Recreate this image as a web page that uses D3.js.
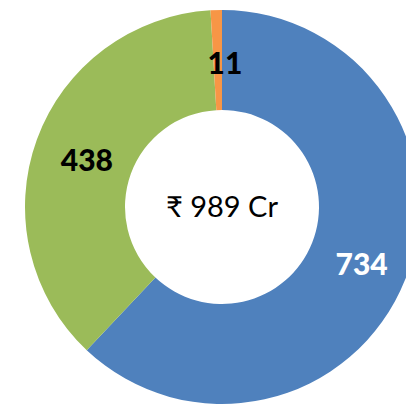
<!DOCTYPE html>
<html>
<head>
<meta charset="utf-8">
<script src="https://cdn.jsdelivr.net/npm/d3@7"></script>
<style>
  body { margin: 0; background: #fff; }
  text { font-family: Lato, "Noto Sans", sans-serif; }
</style>
</head>
<body>
<script>
const width = 406;
const height = 405;

// slices, clockwise from 12 o'clock
const categories = ["A", "B", "C"];
const values = [734, 438, 11];
const colors = ["#4F81BD", "#9BBB59", "#F79646"];
const labelColors = ["#fff", "#000", "#000"];
const centerLabel = "₹ 989 Cr";

const cx = 222, cy = 207;
const outer = 197, inner = 97;

var svg = d3.select("body").append("svg")
    .attr("width", width)
    .attr("height", height);

var g = svg.append("g")
    .attr("transform", `translate(${cx},${cy})`);

var pie = d3.pie().sort(null).value((d) => d.value);
var arc = d3.arc().innerRadius(inner).outerRadius(outer);
var labelArc = d3.arc().innerRadius((inner + outer) / 2).outerRadius((inner + outer) / 2);

var data = categories.map((c, i) => ({ name: c, value: values[i], i: i }));
var arcs = pie(data);

g.selectAll(".slice")
    .data(arcs)
  .enter().append("path")
    .attr("class", "slice")
    .attr("d", arc)
    .attr("fill", (d) => colors[d.data.i]);

g.selectAll(".lbl")
    .data(arcs)
  .enter().append("text")
    .attr("class", "lbl")
    .attr("transform", (d) => {
      const c = labelArc.centroid(d);
      // the tiny slice's label sits centred on the top
      if (d.data.value < 20) c[0] = 0;
      return `translate(${c[0] + 3},${c[1] + 2})`;
    })
    .attr("text-anchor", "middle")
    .attr("dominant-baseline", "central")
    .attr("font-size", 30)
    .attr("font-weight", 900)
    .attr("fill", (d) => labelColors[d.data.i])
    .text((d) => d.data.value);

g.append("text")
    .attr("text-anchor", "middle")
    .attr("dominant-baseline", "central")
    .attr("y", -2)
    .attr("font-size", 29)
    .attr("fill", "#000")
    .text(centerLabel);
</script>
</body>
</html>
